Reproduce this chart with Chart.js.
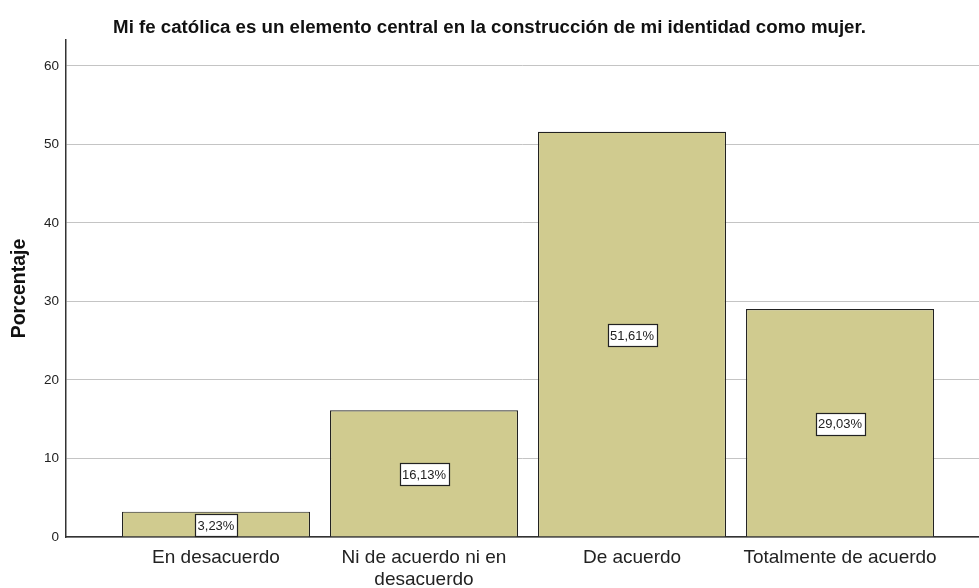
<!DOCTYPE html>
<html>
<head>
<meta charset="utf-8">
<script src="https://cdn.jsdelivr.net/npm/chart.js@4"></script>
<style>
  html, body { margin: 0; padding: 0; background: #fff; }
  #wrap { width: 979px; height: 588px; }
</style>
</head>
<body>
<div id="wrap"><canvas id="chart" width="979" height="588"></canvas></div>
<script>
"use strict"

// Datos
const categories = [["En desacuerdo"], ["Ni de acuerdo ni en", "desacuerdo"], ["De acuerdo"], ["Totalmente de acuerdo"]]
const positions = [1, 2, 3, 4]
const percents = [3.23, 16.13, 51.61, 29.03]
const yTicks = [0, 10, 20, 30, 40, 50, 60]

// Etiquetas con caja blanca en el centro de cada barra
const boxLabels = {
  id: "boxLabels",
  afterDatasetsDraw(chart) {
    const ctx = chart.ctx
    const meta = chart.getDatasetMeta(0)
    ctx.save()
    ctx.font = "13px 'Liberation Sans', Arial, sans-serif"
    ctx.textAlign = "center"
    ctx.textBaseline = "middle"
    meta.data.forEach((bar, i) => {
      const text = percents[i].toFixed(2).replace(".", ",") + "%"
      const w = Math.round(ctx.measureText(text).width + 5)
      const h = 22
      const cy = (bar.y + bar.base) / 2 + 1
      const left = Math.round(bar.x - w / 2) + 0.5
      const top = Math.round(cy - h / 2) + 0.5
      ctx.fillStyle = "#fff"
      ctx.fillRect(left, top, w, h)
      ctx.strokeStyle = "#222"
      ctx.lineWidth = 1.2
      ctx.strokeRect(left, top, w, h)
      ctx.fillStyle = "#222"
      ctx.fillText(text, bar.x, cy + 1)
    })
    ctx.restore()
  }
}

new Chart(document.getElementById("chart"), {
  type: "bar",
  data: {
    datasets: [{
      data: positions.map((x, i) => ({ x: x, y: percents[i] })),
      backgroundColor: "#d0cb8f",
      borderColor: "#222",
      borderWidth: 1.2,
      barPercentage: 0.904,
      categoryPercentage: 1
    }]
  },
  options: {
    responsive: false,
    animation: false,
    layout: { padding: 0 },
    plugins: {
      legend: { display: false },
      tooltip: { enabled: false },
      title: {
        display: true,
        text: "Mi fe católica es un elemento central en la construcción de mi identidad como mujer.",
        color: "#111",
        font: { family: "'Liberation Sans', Arial, sans-serif", size: 18.7, weight: "bold" },
        padding: { top: 17, bottom: 0.6 }
      }
    },
    scales: {
      x: {
        type: "linear",
        offset: false,
        min: 0.279,
        max: 4.668,
        grid: { display: false, drawTicks: false, offset: false },
        border: { display: true, color: "#333", width: 1.5 },
        afterBuildTicks: scale => { scale.ticks = positions.map(v => ({ value: v })) },
        afterFit: scale => { scale.height = 51 },
        ticks: {
          padding: 10,
          maxRotation: 0,
          autoSkip: false,
          color: "#222",
          font: { family: "'Liberation Sans', Arial, sans-serif", size: 19, lineHeight: 1.16 },
          callback: (v) => categories[positions.indexOf(v)]
        }
      },
      y: {
        min: 0,
        max: 63.3,
        grid: { color: "#c4c4c4", lineWidth: 1, drawTicks: false },
        border: { display: true, color: "#333", width: 1.5 },
        afterBuildTicks: scale => { scale.ticks = yTicks.map(v => ({ value: v })) },
        afterFit: scale => { scale.width = 66 },
        ticks: {
          padding: 7,
          color: "#222",
          font: { family: "'Liberation Sans', Arial, sans-serif", size: 13.5 }
        },
        title: {
          display: true,
          text: "Porcentaje",
          color: "#111",
          padding: { top: 8, bottom: 0 },
          font: { family: "'Liberation Sans', Arial, sans-serif", size: 19.5, weight: "bold" }
        }
      }
    }
  },
  plugins: [boxLabels]
})
</script>
</body>
</html>
